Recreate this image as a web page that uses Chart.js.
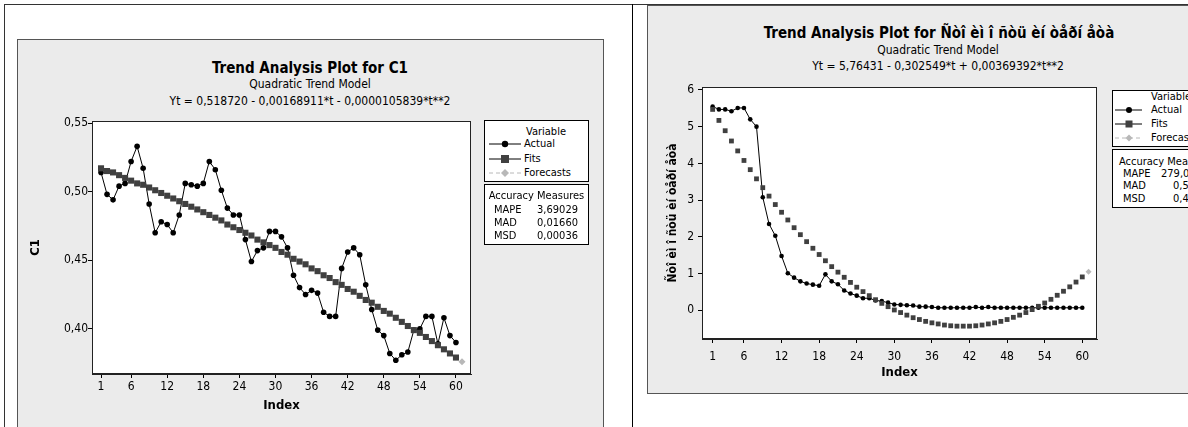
<!DOCTYPE html>
<html>
<head>
<meta charset="utf-8">
<title>Trend Analysis Plot</title>
<script src="https://cdn.jsdelivr.net/npm/chart.js@4.4.1/dist/chart.umd.min.js"></script>
<style>
body { margin:0; width:1188px; height:427px; overflow:hidden; position:relative; background:#fff;
       font-family:"DejaVu Sans Condensed","DejaVu Sans",sans-serif; color:#000; }
.ln { position:absolute; background:#333; }
.panel { position:absolute; background:#ebebeb; border:1px solid #555; box-sizing:border-box; }
.cv { position:absolute; }
.ttl { position:absolute; white-space:nowrap; transform:translateX(-50%); line-height:16px; }
.box { position:absolute; background:#fff; border:1px solid #000; box-sizing:border-box; overflow:hidden; }
.row { position:absolute; white-space:nowrap; line-height:14px; }
.row svg { position:absolute; top:0; }
</style>
</head>
<body>
<div class="ln" style="left:4px;top:4px;width:1184px;height:1px"></div>
<div class="ln" style="left:4px;top:4px;width:1px;height:423px"></div>
<div class="ln" style="left:632px;top:4px;width:1px;height:423px;background:#000"></div>

<div class="panel" style="left:17px;top:39px;width:587px;height:400px"></div>
<div class="panel" style="left:647px;top:5px;width:560px;height:389px"></div>

<div class="ttl" style="left:310px;top:60px;font-size:15px;font-weight:bold">Trend Analysis Plot for C1</div>
<div class="ttl" style="left:310px;top:76px;font-size:12px">Quadratic Trend Model</div>
<div class="ttl" style="left:310px;top:93px;font-size:12px">Yt = 0,518720 - 0,00168911*t - 0,0000105839*t**2</div>

<div class="ttl" style="left:939px;top:25px;font-size:15px;font-weight:bold">Trend Analysis Plot for Ñòî èì î ñòü èí òåðí åòà</div>
<div class="ttl" style="left:938px;top:42px;font-size:12px">Quadratic Trend Model</div>
<div class="ttl" style="left:938px;top:58px;font-size:12px">Yt = 5,76431 - 0,302549*t + 0,00369392*t**2</div>

<canvas id="c1" class="cv" width="585" height="388" style="left:18px;top:39px"></canvas>
<canvas id="c2" class="cv" width="541" height="388" style="left:647px;top:5px"></canvas>

<!-- legend, left chart -->
<div class="box" style="left:484px;top:120px;width:105px;height:62px;font-size:11px">
  <div class="row" style="left:41px;top:4px">Variable</div>
  <div class="row" style="left:39px;top:16px">Actual</div>
  <div class="row" style="left:39px;top:31px">Fits</div>
  <div class="row" style="left:39px;top:45px">Forecasts</div>
  <svg style="position:absolute;left:4px;top:16px" width="33" height="44">
    <line x1="0" y1="7" x2="32" y2="7" stroke="#000"/><circle cx="16" cy="7" r="3.2" fill="#000"/>
    <line x1="0" y1="22" x2="32" y2="22" stroke="#000"/><rect x="12" y="18" width="8" height="8" fill="#404040"/>
    <line x1="0" y1="36" x2="32" y2="36" stroke="#b8b8b8" stroke-dasharray="4,3"/><path d="M16 32 L20 36 L16 40 L12 36 Z" fill="#b8b8b8"/>
  </svg>
</div>
<div class="box" style="left:484px;top:184px;width:105px;height:61px;font-size:11px">
  <div class="row" style="left:0;width:103px;text-align:center;top:4px">Accuracy Measures</div>
  <div class="row" style="left:9px;top:18px">MAPE</div><div class="row" style="right:10px;top:18px">3,69029</div>
  <div class="row" style="left:9px;top:31px">MAD</div><div class="row" style="right:10px;top:31px">0,01660</div>
  <div class="row" style="left:9px;top:44px">MSD</div><div class="row" style="right:10px;top:44px">0,00036</div>
</div>

<!-- legend, right chart -->
<div class="box" style="left:1112px;top:90px;width:100px;height:57px;font-size:11px">
  <div class="row" style="left:38px;top:-1px">Variable</div>
  <div class="row" style="left:38px;top:12px">Actual</div>
  <div class="row" style="left:38px;top:26px">Fits</div>
  <div class="row" style="left:38px;top:40px">Forecasts</div>
  <svg style="position:absolute;left:2px;top:12px" width="30" height="44">
    <line x1="0" y1="7" x2="27" y2="7" stroke="#000"/><circle cx="14" cy="7" r="3" fill="#000"/>
    <line x1="0" y1="21" x2="27" y2="21" stroke="#000"/><rect x="10.5" y="17.5" width="7" height="7" fill="#404040"/>
    <line x1="0" y1="35" x2="27" y2="35" stroke="#b8b8b8" stroke-dasharray="4,3"/><path d="M14 31.5 L17.5 35 L14 38.5 L10.5 35 Z" fill="#b8b8b8"/>
  </svg>
</div>
<div class="box" style="left:1112px;top:149px;width:100px;height:59px;font-size:11px">
  <div class="row" style="left:6px;top:5px">Accuracy Measures</div>
  <div class="row" style="left:10px;top:17px">MAPE</div><div class="row" style="left:48px;top:17px">279,053</div>
  <div class="row" style="left:10px;top:29px">MAD</div><div class="row" style="left:60px;top:29px">0,532</div>
  <div class="row" style="left:10px;top:42px">MSD</div><div class="row" style="left:60px;top:42px">0,446</div>
</div>

<script>
// 横轴刻度 (Index)
var idxTicks = [1, 6, 12, 18, 24, 30, 36, 42, 48, 54, 60]

// C1
var c1Actual = [0.514, 0.498, 0.494, 0.504, 0.506, 0.522, 0.533, 0.517, 0.491, 0.470,
    0.478, 0.476, 0.470, 0.483, 0.506, 0.505, 0.504, 0.506, 0.522, 0.516,
    0.501, 0.488, 0.483, 0.483, 0.465, 0.449, 0.457, 0.459, 0.471, 0.471,
    0.467, 0.459, 0.439, 0.430, 0.425, 0.428, 0.426, 0.412, 0.409, 0.409,
    0.444, 0.456, 0.459, 0.454, 0.432, 0.414, 0.399, 0.395, 0.382, 0.377,
    0.381, 0.383, 0.399, 0.400, 0.409, 0.409, 0.389, 0.408, 0.395, 0.390]
var c1Fits = [0.517, 0.515, 0.514, 0.512, 0.510, 0.508, 0.506, 0.505, 0.503, 0.501,
    0.499, 0.497, 0.495, 0.493, 0.491, 0.489, 0.487, 0.485, 0.483, 0.481,
    0.479, 0.476, 0.474, 0.472, 0.470, 0.468, 0.465, 0.463, 0.461, 0.459,
    0.456, 0.454, 0.451, 0.449, 0.447, 0.444, 0.442, 0.439, 0.437, 0.434,
    0.432, 0.429, 0.427, 0.424, 0.421, 0.419, 0.416, 0.413, 0.411, 0.408,
    0.405, 0.402, 0.399, 0.397, 0.394, 0.391, 0.388, 0.385, 0.382, 0.379]
var c1Forecast = [0.376]
var c1YTicks = [0.40, 0.45, 0.50, 0.55]

// Ñòîèìîñòü èíòåðíåòà
var netActual = [5.55, 5.47, 5.47, 5.42, 5.51, 5.51, 5.20, 5.00, 3.08, 2.35,
    2.03, 1.48, 1.01, 0.89, 0.79, 0.73, 0.70, 0.67, 0.98, 0.79,
    0.71, 0.54, 0.46, 0.40, 0.33, 0.33, 0.27, 0.25, 0.21, 0.16,
    0.15, 0.14, 0.13, 0.10, 0.10, 0.09, 0.07, 0.07, 0.07, 0.07,
    0.07, 0.07, 0.09, 0.07, 0.09, 0.07, 0.07, 0.07, 0.07, 0.07,
    0.07, 0.07, 0.07, 0.07, 0.07, 0.07, 0.07, 0.07, 0.07, 0.07]
var netFits = [5.47, 5.17, 4.89, 4.61, 4.34, 4.08, 3.83, 3.58, 3.34, 3.11,
    2.88, 2.67, 2.46, 2.25, 2.06, 1.87, 1.69, 1.52, 1.35, 1.19,
    1.04, 0.90, 0.76, 0.63, 0.51, 0.40, 0.29, 0.19, 0.10, 0.01,
    -0.06, -0.13, -0.20, -0.25, -0.30, -0.34, -0.37, -0.40, -0.42, -0.43,
    -0.43, -0.43, -0.42, -0.40, -0.37, -0.34, -0.30, -0.25, -0.19, -0.13,
    -0.06, 0.02, 0.11, 0.20, 0.30, 0.41, 0.52, 0.64, 0.77, 0.91]
var netForecast = [1.05]
var netYTicks = [0, 1, 2, 3, 4, 5, 6]

var F = '"DejaVu Sans Condensed","DejaVu Sans",sans-serif'

function toXY(arr, start) {
    return arr.map(function (v, i) { return { x: start + i, y: v } })
}

// 白色绘图区 + 外框
var framePlugin = {
    id: 'frame',
    beforeDatasetsDraw: function (chart) {
        var a = chart.chartArea, ctx = chart.ctx
        ctx.save()
        ctx.fillStyle = '#fff'
        ctx.fillRect(a.left, a.top, a.right - a.left, a.bottom - a.top)
        ctx.restore()
    },
    afterDraw: function (chart) {
        var a = chart.chartArea, ctx = chart.ctx
        ctx.save()
        ctx.strokeStyle = '#222'
        ctx.lineWidth = 1
        ctx.strokeRect(Math.round(a.left) + 0.5, Math.round(a.top) + 0.5,
            Math.round(a.right - a.left) - 1, Math.round(a.bottom - a.top) - 1)
        ctx.restore()
    }
}

function makeChart(id, o) {
    var ctx = document.getElementById(id).getContext('2d')
    return new Chart(ctx, {
        type: 'line',
        data: {
            datasets: [
                {
                    label: 'Forecasts', data: toXY(o.forecast, o.actual.length + 1), showLine: false,
                    pointStyle: 'rectRot', pointRadius: o.dR, pointBackgroundColor: '#b8b8b8',
                    pointBorderColor: '#b8b8b8', pointBorderWidth: 0
                },
                {
                    label: 'Fits', data: toXY(o.fits, 1), showLine: false,
                    pointStyle: 'rect', pointRadius: o.sR, pointBackgroundColor: '#404040',
                    pointBorderColor: '#404040', pointBorderWidth: 0
                },
                {
                    label: 'Actual', data: toXY(o.actual, 1), borderColor: '#000', borderWidth: 1,
                    tension: 0, pointStyle: 'circle', pointRadius: o.cR, pointBackgroundColor: '#000',
                    pointBorderColor: '#000', pointBorderWidth: 0
                }
            ]
        },
        options: {
            responsive: false,
            animation: false,
            layout: { padding: o.pad },
            plugins: { legend: { display: false }, tooltip: { enabled: false } },
            scales: {
                x: {
                    type: 'linear', min: o.xMin, max: o.xMax,
                    afterBuildTicks: function (s) { s.ticks = idxTicks.map(function (v) { return { value: v } }) },
                    afterFit: function (s) { s.height = o.xH },
                    grid: { drawOnChartArea: false, drawTicks: true, tickLength: 4, color: '#000' },
                    border: { display: true, color: '#222' },
                    ticks: { color: '#000', font: { size: 12, family: F }, padding: o.xPad, maxRotation: 0, autoSkip: false },
                    title: { display: true, text: 'Index', color: '#000', font: { size: 13, weight: 'bold', family: F }, padding: 0 }
                },
                y: {
                    type: 'linear', min: o.yMin, max: o.yMax,
                    afterBuildTicks: function (s) { s.ticks = o.yTicks.map(function (v) { return { value: v } }) },
                    afterFit: function (s) { s.width = o.yW },
                    grid: { drawOnChartArea: false, drawTicks: true, tickLength: 4, color: '#000' },
                    border: { display: true, color: '#222' },
                    ticks: { color: '#000', font: { size: 12, family: F }, padding: o.yPad, callback: o.yFmt },
                    title: { display: true, text: o.yTitle, color: '#000', font: { size: o.yTitleSize, weight: 'bold', family: F }, padding: 0 }
                }
            }
        },
        plugins: [framePlugin]
    })
}

makeChart('c1', {
    actual: c1Actual, fits: c1Fits, forecast: c1Forecast, yTicks: c1YTicks,
    xMin: -0.5, xMax: 62.5, yMin: 0.367, yMax: 0.5515,
    pad: { left: 10, top: 82, right: 132, bottom: 14 }, yW: 64, xH: 39,
    xPad: 2, yPad: 0, cR: 2.8, sR: 4.3, dR: 3.5,
    yTitle: 'C1', yTitleSize: 13,
    yFmt: function (v) { return v.toFixed(2).replace('.', ',') }
})

makeChart('c2', {
    actual: netActual, fits: netFits, forecast: netForecast, yTicks: netYTicks,
    xMin: -0.7, xMax: 62.35, yMin: -0.78, yMax: 6.08,
    pad: { left: 19, top: 82, right: 91, bottom: 13 }, yW: 36, xH: 41,
    xPad: 7, yPad: 4, cR: 2.3, sR: 3.4, dR: 3,
    yTitle: 'Ñòî èì î ñòü èí òåðí åòà', yTitleSize: 12,
    yFmt: function (v) { return String(v) }
})
</script>
</body>
</html>
